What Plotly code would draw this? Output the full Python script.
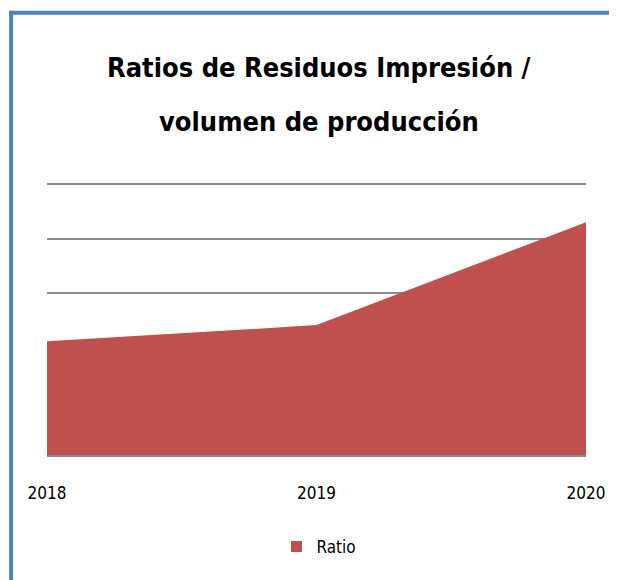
import plotly.graph_objects as go

years = ["2018", "2019", "2020"]
ratio = [2.1, 2.4, 4.3]
title_lines = ["Ratios de Residuos Impresión /", "volumen de producción"]

OFF = 8  # page body margin in the browser
W, H = 617 - OFF, 580 - OFF
Y_MAX = 5.1
# plot area in reference pixel coords: x 47..588, baseline 455, 54.2 px per unit
X0, X1, Y_BASE, UNIT = 47, 588, 455, 54.2
Y_TOP = Y_BASE - Y_MAX * UNIT
L = X0 - OFF
R = W - (X1 - OFF)
T = Y_TOP - OFF
B = H - (Y_BASE - OFF)
pw, ph = W - L - R, H - T - B


def px_x(px):
    return (px - OFF - L) / pw


def px_y(py):
    return (H - B - (py - OFF)) / ph


font_family = "DejaVu Sans Condensed, Liberation Sans Narrow, Arial Narrow, sans-serif"

fig = go.Figure()
fig.add_trace(go.Scatter(
    x=years, y=ratio, name="Ratio", mode="lines",
    fill="tozeroy", fillcolor="#C0504D",
    line=dict(color="#C0504D", width=0),
    showlegend=False,
))
fig.add_trace(go.Scatter(
    x=[None], y=[None], name="Ratio", mode="markers",
    marker=dict(symbol="square", size=11, color="#C0504D"),
    showlegend=True,
))

annotations = []
for txt, ypx in zip(title_lines, [67, 121]):
    annotations.append(dict(
        text="<b>" + txt + "</b>", xref="paper", yref="paper",
        x=px_x(320), y=px_y(ypx), xanchor="center", yanchor="middle",
        showarrow=False,
        font=dict(size=27, family=font_family, color="black"),
    ))

fig.update_layout(
    width=W, height=H,
    margin=dict(l=L, r=R, t=T, b=B),
    paper_bgcolor="white", plot_bgcolor="white",
    font=dict(family=font_family, color="black"),
    showlegend=True,
    legend=dict(
        orientation="h", x=px_x(320), xanchor="center",
        y=px_y(547), yanchor="middle",
        font=dict(size=17, family=font_family),
        itemwidth=30, bgcolor="rgba(0,0,0,0)",
    ),
    xaxis=dict(
        type="category", range=[0, 2], showgrid=False,
        showline=True, linecolor="#8C8C8C", linewidth=2,
        ticks="", tickfont=dict(size=17, family=font_family),
        ticklabelstandoff=22,
    ),
    yaxis=dict(
        range=[0, Y_MAX], dtick=1, showgrid=True, gridcolor="#8C8C8C",
        gridwidth=2, showticklabels=False, zeroline=False, ticks="",
    ),
    annotations=annotations,
    shapes=[
        dict(type="line", xref="paper", yref="paper",
             x0=px_x(11), x1=px_x(11), y0=px_y(10), y1=px_y(590),
             line=dict(color="#4F81BD", width=4)),
        dict(type="line", xref="paper", yref="paper",
             x0=px_x(9), x1=px_x(630), y0=px_y(12), y1=px_y(12),
             line=dict(color="#4F81BD", width=4)),
    ],
)

fig.write_html("out.html")
